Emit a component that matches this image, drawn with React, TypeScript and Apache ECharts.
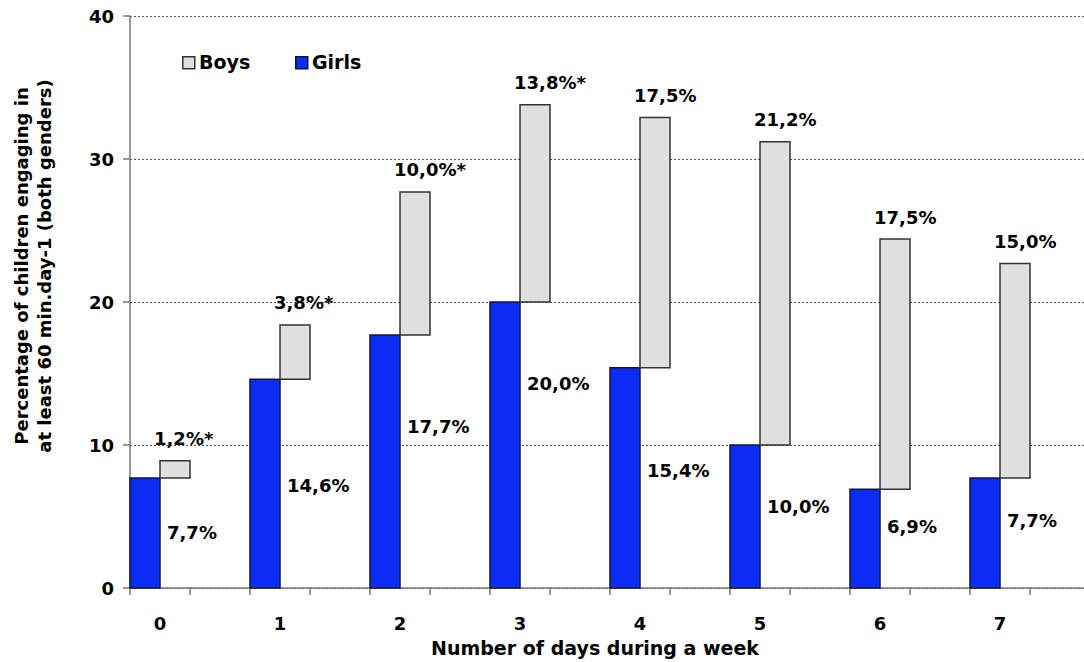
import React, { useEffect, useRef } from "react";
import * as echarts from "echarts";

const days = [0, 1, 2, 3, 4, 5, 6, 7];
const girls = [7.7, 14.6, 17.7, 20.0, 15.4, 10.0, 6.9, 7.7];
const boys = [1.2, 3.8, 10.0, 13.8, 17.5, 21.2, 17.5, 15.0];
const boysSignificant = [true, true, true, true, false, false, false, false];
const yTicks = [0, 10, 20, 30, 40];

// vertical anchor (in axis units) of each girls' value label, as placed in the original
const girlsLabelLevel = [3.85, 7.2, 11.3, 14.3, 8.25, 5.7, 4.3, 4.75];

const FONT = "'DejaVu Sans', Arial, sans-serif";
const BLUE = "#0a2cf5";
const GREY = "#e0e0e0";

const fmt = (v: number) => v.toFixed(1).replace(".", ",") + "%";

export default function App() {
  const ref = useRef<HTMLDivElement>(null);

  useEffect(() => {
    document.body.style.margin = "0";
    document.body.style.overflow = "hidden";
    if (!ref.current) return;
    const chart = echarts.init(ref.current, undefined, { renderer: "svg" });

    const tickVals: number[] = [];
    for (let i = 0; i < days.length; i++) {
      tickVals.push(days[i] - 0.25, days[i] + 0.25);
    }

    const girlsData = days.map((d, i) => [d, girls[i], girlsLabelLevel[i]]);
    const boysData = days.map((d, i) => [d, girls[i], girls[i] + boys[i], boys[i], boysSignificant[i] ? 1 : 0]);

    const option: any = {
      animation: false,
      backgroundColor: "#ffffff",
      grid: { left: 130, right: 0, top: 16, bottom: 74, containLabel: false },
      xAxis: {
        type: "value",
        min: -0.25,
        max: 7.7,
        axisLine: { show: true, onZero: false, lineStyle: { color: "#777", width: 1.5 } },
        axisTick: { show: true, customValues: tickVals, length: 7, lineStyle: { color: "#777", width: 1.5 } },
        axisLabel: {
          customValues: days,
          formatter: (v: number) => String(v),
          margin: 26,
          fontSize: 18,
          fontWeight: "bold",
          fontFamily: FONT,
          color: "#000",
        },
        splitLine: { show: false },
      },
      yAxis: {
        type: "value",
        min: yTicks[0],
        max: yTicks[yTicks.length - 1],
        interval: 10,
        axisLine: { show: true, onZero: false, lineStyle: { color: "#777", width: 1.5 } },
        axisTick: { show: true, length: 7, lineStyle: { color: "#777", width: 1.5 } },
        axisLabel: {
          margin: 16,
          fontSize: 18,
          fontWeight: "bold",
          fontFamily: FONT,
          color: "#000",
        },
        splitLine: { show: true, lineStyle: { color: "#555", type: [2, 2], width: 1 } },
      },
      series: [
        {
          type: "custom",
          name: "Girls",
          data: girlsData,
          z: 3,
          renderItem: (params: any, api: any) => {
            const x = api.value(0);
            const g = api.value(1);
            const lvl = api.value(2);
            const base = api.coord([x, 0]);
            const top = api.coord([x, g]);
            const w = api.size([0.25, 0])[0];
            const lab = api.coord([x, lvl]);
            return {
              type: "group",
              children: [
                {
                  type: "rect",
                  shape: { x: base[0] - w, y: top[1], width: w, height: base[1] - top[1] },
                  style: { fill: BLUE, stroke: "#14143a", lineWidth: 1.5 },
                },
                {
                  type: "text",
                  x: base[0] + 7,
                  y: lab[1],
                  style: {
                    text: fmt(g),
                    fontSize: 18,
                    fontWeight: "bold",
                    fontFamily: FONT,
                    fill: "#000",
                    align: "left",
                    verticalAlign: "middle",
                  },
                },
              ],
            };
          },
        },
        {
          type: "custom",
          name: "Boys",
          data: boysData,
          z: 3,
          renderItem: (params: any, api: any) => {
            const x = api.value(0);
            const lo = api.value(1);
            const hi = api.value(2);
            const b = api.value(3);
            const sig = api.value(4);
            const p0 = api.coord([x, lo]);
            const p1 = api.coord([x, hi]);
            const w = api.size([0.25, 0])[0];
            return {
              type: "group",
              children: [
                {
                  type: "rect",
                  shape: { x: p0[0], y: p1[1], width: w, height: p0[1] - p1[1] },
                  style: { fill: GREY, stroke: "#333", lineWidth: 1.5 },
                },
                {
                  type: "text",
                  x: p0[0] - 6,
                  y: p1[1] - 13,
                  style: {
                    text: fmt(b) + (sig ? "*" : ""),
                    fontSize: 18,
                    fontWeight: "bold",
                    fontFamily: FONT,
                    fill: "#000",
                    align: "left",
                    verticalAlign: "bottom",
                  },
                },
              ],
            };
          },
        },
      ],
      graphic: [
        {
          type: "rect",
          left: 182,
          top: 56,
          shape: { width: 12, height: 12 },
          style: { fill: GREY, stroke: "#333", lineWidth: 1.5 },
        },
        {
          type: "text",
          left: 199,
          top: 52,
          style: { text: "Boys", fontSize: 19, fontWeight: "bold", fontFamily: FONT, fill: "#000" },
        },
        {
          type: "rect",
          left: 295,
          top: 56,
          shape: { width: 12, height: 12 },
          style: { fill: BLUE, stroke: "#14143a", lineWidth: 1.5 },
        },
        {
          type: "text",
          left: 312,
          top: 52,
          style: { text: "Girls", fontSize: 19, fontWeight: "bold", fontFamily: FONT, fill: "#000" },
        },
        {
          type: "text",
          x: 595,
          y: 648,
          style: {
            text: "Number of days during a week",
            fontSize: 19,
            fontWeight: "bold",
            fontFamily: FONT,
            fill: "#000",
            align: "center",
            verticalAlign: "middle",
          },
        },
        {
          type: "text",
          x: 33,
          y: 266,
          rotation: Math.PI / 2,
          style: {
            text: "Percentage of children engaging in\nat least 60 min.day-1 (both genders)",
            fontSize: 18,
            fontWeight: "bold",
            fontFamily: FONT,
            fill: "#000",
            align: "center",
            verticalAlign: "middle",
            lineHeight: 23,
          },
        },
      ],
    };

    chart.setOption(option);
    return () => chart.dispose();
  }, []);

  return <div ref={ref} style={{ width: 1084, height: 662 }} />;
}
